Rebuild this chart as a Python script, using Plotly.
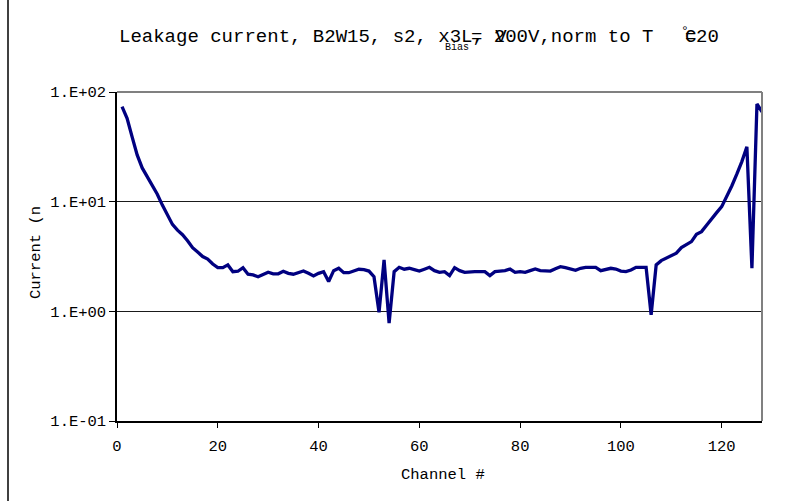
import plotly.graph_objects as go

# Leakage current per channel (nA), normalised to 20 °C
channels = list(range(1, 129))
current_na = [
    73.5, 57.5, 39.0, 26.7, 20.3, 16.9, 14.2, 11.7, 9.3, 7.6,
    6.2, 5.5, 5.0, 4.4, 3.8, 3.47, 3.16, 3.0, 2.7, 2.5,
    2.5, 2.65, 2.3, 2.32, 2.5, 2.18, 2.15, 2.07, 2.15, 2.27,
    2.2, 2.2, 2.32, 2.22, 2.18, 2.25, 2.33, 2.22, 2.1, 2.22,
    2.3, 1.87, 2.35, 2.47, 2.25, 2.25, 2.33, 2.42, 2.4, 2.33,
    2.07, 0.98, 2.94, 0.78, 2.3, 2.52, 2.42, 2.47, 2.4, 2.33,
    2.42, 2.52, 2.35, 2.27, 2.3, 2.12, 2.5, 2.35, 2.27, 2.3,
    2.3, 2.3, 2.3, 2.12, 2.3, 2.33, 2.35, 2.43, 2.27, 2.3,
    2.27, 2.35, 2.43, 2.35, 2.33, 2.33, 2.45, 2.55, 2.5, 2.42,
    2.37, 2.47, 2.52, 2.52, 2.52, 2.35, 2.43, 2.47, 2.43, 2.33,
    2.3, 2.38, 2.52, 2.52, 2.52, 0.93, 2.65, 2.9, 3.05, 3.22,
    3.39, 3.81, 4.03, 4.32, 5.04, 5.33, 6.1, 7.06, 7.94, 9.0,
    11.1, 13.9, 17.8, 23.2, 31.7, 2.47, 77.8, 66.0,
]

x_ticks = [0, 20, 40, 60, 80, 100, 120]
y_ticks = [0.1, 1, 10, 100]
y_tick_labels = ["1.E-01", "1.E+00", "1.E+01", "1.E+02"]

W, H = 787, 501
L, R, T, B = 117, 762, 92, 421          # plot area in pixels
FONT = "Liberation Mono, Courier New, monospace"


def px(x):
    return (x - L) / (R - L)


def py(y):
    return (B - y) / (B - T)


fig = go.Figure(
    go.Scatter(
        x=channels,
        y=current_na,
        mode="lines",
        line=dict(color="#000080", width=3.3),
        hoverinfo="x+y",
    )
)

fig.update_layout(
    width=W,
    height=H,
    margin=dict(l=L, r=W - R, t=T, b=H - B, pad=0),
    paper_bgcolor="white",
    plot_bgcolor="white",
    showlegend=False,
    font=dict(family=FONT, color="black", size=15.5),
)

fig.update_xaxes(
    range=[0, 128],
    tickvals=x_ticks,
    ticks="outside",
    ticklen=5,
    tickwidth=1,
    tickcolor="black",
    ticklabelstandoff=5,
    showline=True,
    linecolor="black",
    linewidth=1.5,
    showgrid=False,
    zeroline=False,
    tickfont=dict(family=FONT, size=15.5),
)

fig.update_yaxes(
    type="log",
    range=[-1, 2],
    tickvals=y_ticks,
    ticktext=y_tick_labels,
    ticks="outside",
    ticklen=6,
    tickwidth=1,
    tickcolor="black",
    showline=True,
    linecolor="black",
    linewidth=1.5,
    showgrid=True,
    gridcolor="#1a1a1a",
    gridwidth=1.2,
    zeroline=False,
    tickfont=dict(family=FONT, size=15.5),
)

shapes = [
    # grey frame on the top and right of the plot area
    dict(type="line", xref="paper", yref="paper", x0=0, x1=1, y0=1, y1=1,
         line=dict(color="#808080", width=2)),
    dict(type="line", xref="paper", yref="paper", x0=1, x1=1, y0=0, y1=1,
         line=dict(color="#808080", width=2)),
    # chart-area border on the left
    dict(type="line", xref="paper", yref="paper", x0=px(8), x1=px(8),
         y0=py(H), y1=py(0), line=dict(color="black", width=1.5)),
]

title_y = py(37)
annotations = [
    dict(text="Leakage current, B2W15, s2, x3L, V", x=px(117), y=title_y,
         font=dict(size=19, family=FONT)),
    dict(text="Bias", x=px(443), y=py(47), font=dict(size=10, family=FONT)),
    dict(text="= 200V,norm to T", x=px(469), y=title_y,
         font=dict(size=19, family=FONT)),
    dict(text="°", x=px(679), y=py(31), font=dict(size=13, family=FONT)),
    dict(text="C", x=px(683), y=title_y, font=dict(size=19, family=FONT)),
    dict(text="=", x=px(683), y=title_y, font=dict(size=19, family=FONT)),
    dict(text="20", x=px(694), y=title_y, font=dict(size=19, family=FONT)),
    # axis titles
    dict(text="Channel #", x=px(443), y=py(475), xanchor="center",
         font=dict(size=15.5, family=FONT)),
    dict(text="Current (n", x=px(36), y=py(252), xanchor="center",
         textangle=-90, font=dict(size=15.5, family=FONT)),
]
for a in annotations:
    a.setdefault("xanchor", "left")
    a.update(xref="paper", yref="paper", yanchor="middle", showarrow=False)

fig.update_layout(shapes=shapes, annotations=annotations)

fig.write_html("out.html")
